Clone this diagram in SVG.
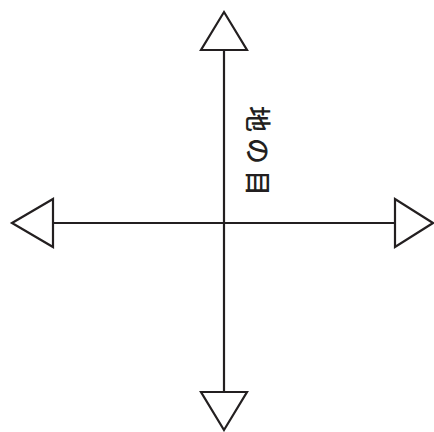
<svg xmlns="http://www.w3.org/2000/svg" width="434" height="432" viewBox="0 0 434 432">
<style>
.ln{stroke:#231f20;stroke-width:2.2;fill:none}
.tri{stroke:#231f20;stroke-width:2.2;fill:#fff;stroke-linejoin:miter}
.lbl{font-family:"Noto Sans CJK JP","Noto Sans",sans-serif;font-size:26px;font-weight:500;fill:#231f20;letter-spacing:6px}
</style>
<rect width="434" height="432" fill="#fff"/>
<g id="connectors">
<line class="ln" x1="224" y1="50" x2="224" y2="392"/>
<line class="ln" x1="53" y1="223" x2="395" y2="223"/>
</g>
<g id="arrow-top"><polygon class="tri" points="224,12 247,50 201,50"/></g>
<g id="arrow-bottom"><polygon class="tri" points="224,430 247,392 201,392"/></g>
<g id="arrow-left"><polygon class="tri" points="12,223 53,199 53,247"/></g>
<g id="arrow-right"><polygon class="tri" points="433,223 395,199 395,247"/></g>
<g id="label"><text class="lbl" x="259" y="154" text-anchor="middle" dominant-baseline="central" transform="rotate(90 259 154)">地の目</text></g>
</svg>
